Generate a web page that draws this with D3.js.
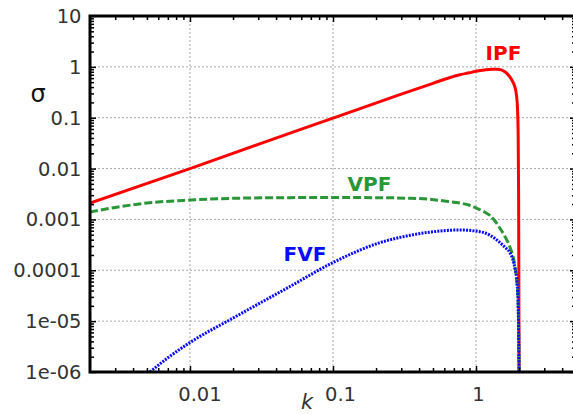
<!DOCTYPE html>
<html>
<head>
<meta charset="utf-8">
<script src="https://cdn.jsdelivr.net/npm/d3@7"></script>
<style>
  html, body { margin: 0; padding: 0; background: #fff; }
  svg { display: block; }
</style>
</head>
<body>
<svg id="chart" width="573" height="414"></svg>
<script>
// ---- data ----
const xTicks = [0.01, 0.1, 1];
const xTickLabels = ["0.01", "0.1", "1"];
const yTicks = [1e-6, 1e-5, 1e-4, 1e-3, 1e-2, 0.1, 1, 10];
const yTickLabels = ["1e-06", "1e-05", "0.0001", "0.001", "0.01", "0.1", "1", "10"];

const ipfK = [0.002, 0.01, 0.03, 0.1, 0.3, 0.5, 0.65, 0.77, 0.9, 1.0, 1.15, 1.3, 1.4, 1.5, 1.6, 1.7, 1.8, 1.87, 1.92, 1.95, 1.97, 1.985, 2.0];
const ipfS = [0.0021, 0.01, 0.03, 0.098, 0.29, 0.475, 0.61, 0.7, 0.765, 0.82, 0.87, 0.895, 0.895, 0.87, 0.79, 0.67, 0.52, 0.4, 0.27, 0.15, 0.05, 0.003, 1e-6];

const vpfK = [0.002, 0.003, 0.005, 0.01, 0.02, 0.05, 0.1, 0.2, 0.35, 0.47, 0.6, 0.77, 0.9, 1.0, 1.12, 1.25, 1.37, 1.47, 1.6, 1.73, 1.87, 1.94, 1.97, 1.99, 2.0];
const vpfS = [0.0014, 0.00172, 0.0021, 0.0024, 0.0026, 0.00268, 0.0027, 0.00268, 0.0026, 0.0025, 0.0023, 0.0021, 0.0019, 0.00168, 0.00145, 0.0012, 0.0009, 0.00067, 0.00045, 0.00028, 0.00012, 0.00005, 0.000025, 0.000005, 1e-6];

const fvfK = [0.00525, 0.007, 0.01, 0.02, 0.05, 0.1, 0.21, 0.35, 0.47, 0.77, 1.0, 1.25, 1.47, 1.6, 1.73, 1.8, 1.87, 1.94, 1.97, 1.99, 2.0];
const fvfS = [1e-6, 1.9e-6, 3.8e-6, 1.15e-5, 4.8e-5, 1.42e-4, 3.45e-4, 4.9e-4, 5.6e-4, 6.2e-4, 5.9e-4, 4.9e-4, 3.5e-4, 2.8e-4, 2.2e-4, 1.7e-4, 1.1e-4, 5.5e-5, 2e-5, 4e-6, 1e-6];

const seriesNames = ["IPF", "VPF", "FVF"];
const seriesColors = ["#ff0000", "#2a9638", "#0a0aff"];

// ---- layout ----
const svg = d3.select("#chart");
const L = 90, R = 576, T = 16, B = 372;
const x = d3.scaleLog().domain([0.002, 5]).range([L, R]);
const y = d3.scaleLog().domain([1e-6, 10]).range([B, T]);

const g = svg.append("g");

// gridlines
g.selectAll("line.vg").data(xTicks).enter().append("line")
  .attr("x1", d => x(d)).attr("x2", d => x(d)).attr("y1", T).attr("y2", B)
  .attr("stroke", "#a8a8a8").attr("stroke-width", 1).attr("stroke-dasharray", "2,2");
g.selectAll("line.hg").data(yTicks.filter(d => d > 1e-6 && d < 10)).enter().append("line")
  .attr("x1", L).attr("x2", R).attr("y1", d => y(d)).attr("y2", d => y(d))
  .attr("stroke", "#a8a8a8").attr("stroke-width", 1).attr("stroke-dasharray", "2,2");

// curves
const line = d3.line().x(d => x(d[0])).y(d => y(d[1])).curve(d3.curveMonotoneX);
svg.append("clipPath").attr("id", "clip").append("rect")
  .attr("x", L).attr("y", T).attr("width", R - L).attr("height", B - T);
const series = [
  {k: ipfK, s: ipfS, dash: null},
  {k: vpfK, s: vpfS, dash: "8,3"},
  {k: fvfK, s: fvfS, dash: "2,1.2"}
];
series.forEach((sr, i) => {
  g.append("path")
    .attr("d", line(sr.k.map((k, j) => [k, sr.s[j]])))
    .attr("fill", "none")
    .attr("stroke", seriesColors[i])
    .attr("stroke-width", 3)
    .attr("stroke-dasharray", sr.dash)
    .attr("clip-path", "url(#clip)");
});

// axes (ticks inward)
const xMinor = [];
for (let e = -3; e <= 0; e++) for (let m = 2; m <= 9; m++) {
  const v = m * Math.pow(10, e);
  if (v > 0.002 && v < 5) xMinor.push(v);
}
const yMinor = [];
for (let e = -6; e <= 0; e++) for (let m = 2; m <= 9; m++) yMinor.push(m * Math.pow(10, e));

const axB = d3.axisTop(x).tickValues(xTicks).tickSize(6).tickFormat("");
const axT = d3.axisBottom(x).tickValues(xTicks).tickSize(6).tickFormat("");
const axL = d3.axisRight(y).tickValues(yTicks).tickSize(6).tickFormat("");
const axR = d3.axisLeft(y).tickValues(yTicks).tickSize(6).tickFormat("");
const mB = d3.axisTop(x).tickValues(xMinor).tickSize(4).tickFormat("");
const mT = d3.axisBottom(x).tickValues(xMinor).tickSize(4).tickFormat("");
const mL = d3.axisRight(y).tickValues(yMinor).tickSize(4).tickFormat("");
const mR = d3.axisLeft(y).tickValues(yMinor).tickSize(4).tickFormat("");
[[axB, `translate(0,${B})`], [mB, `translate(0,${B})`],
 [axT, `translate(0,${T})`], [mT, `translate(0,${T})`],
 [axL, `translate(${L},0)`], [mL, `translate(${L},0)`],
 [axR, `translate(${R},0)`], [mR, `translate(${R},0)`]].forEach(([a, tr]) => {
  const ag = svg.append("g").attr("transform", tr).call(a);
  ag.select(".domain").remove();
  ag.selectAll(".tick line").attr("stroke", "#000").attr("stroke-width", 1.5);
});

// frame
svg.append("rect").attr("x", L).attr("y", T).attr("width", R - L).attr("height", B - T)
  .attr("fill", "none").attr("stroke", "#000").attr("stroke-width", 3);

// tick labels
svg.selectAll("text.xl").data(xTicks).enter().append("text")
  .attr("x", (d, i) => x(d) + xTickLabels[i].length * 2.5)
  .attr("y", 400.5)
  .attr("text-anchor", "middle")
  .attr("font-family", "DejaVu Sans")
  .attr("font-size", 19.5)
  .attr("fill", "#333")
  .text((d, i) => xTickLabels[i]);
svg.selectAll("text.yl").data(yTicks).enter().append("text")
  .attr("x", 81.5)
  .attr("y", d => y(d))
  .attr("dy", "0.36em")
  .attr("text-anchor", "end")
  .attr("font-family", "DejaVu Sans")
  .attr("font-size", 19.5)
  .attr("fill", "#333")
  .text((d, i) => yTickLabels[i]);

// axis titles
svg.append("text").attr("x", 38).attr("y", 102).attr("text-anchor", "middle")
  .attr("font-family", "DejaVu Sans").attr("font-size", 24).attr("fill", "#111").text("σ");
svg.append("text").attr("x", 307).attr("y", 409).attr("text-anchor", "middle")
  .attr("font-family", "DejaVu Sans").attr("font-style", "italic")
  .attr("font-size", 21).attr("fill", "#333").text("k");

// series labels
const labelPos = [[503.5, 59.5], [369.5, 191], [305, 261]];
seriesNames.forEach((n, i) => {
  svg.append("text").attr("x", labelPos[i][0]).attr("y", labelPos[i][1])
    .attr("text-anchor", "middle")
    .attr("font-family", "DejaVu Sans").attr("font-weight", "bold")
    .attr("font-size", 20).attr("fill", seriesColors[i]).text(n);
});
</script>
</body>
</html>
